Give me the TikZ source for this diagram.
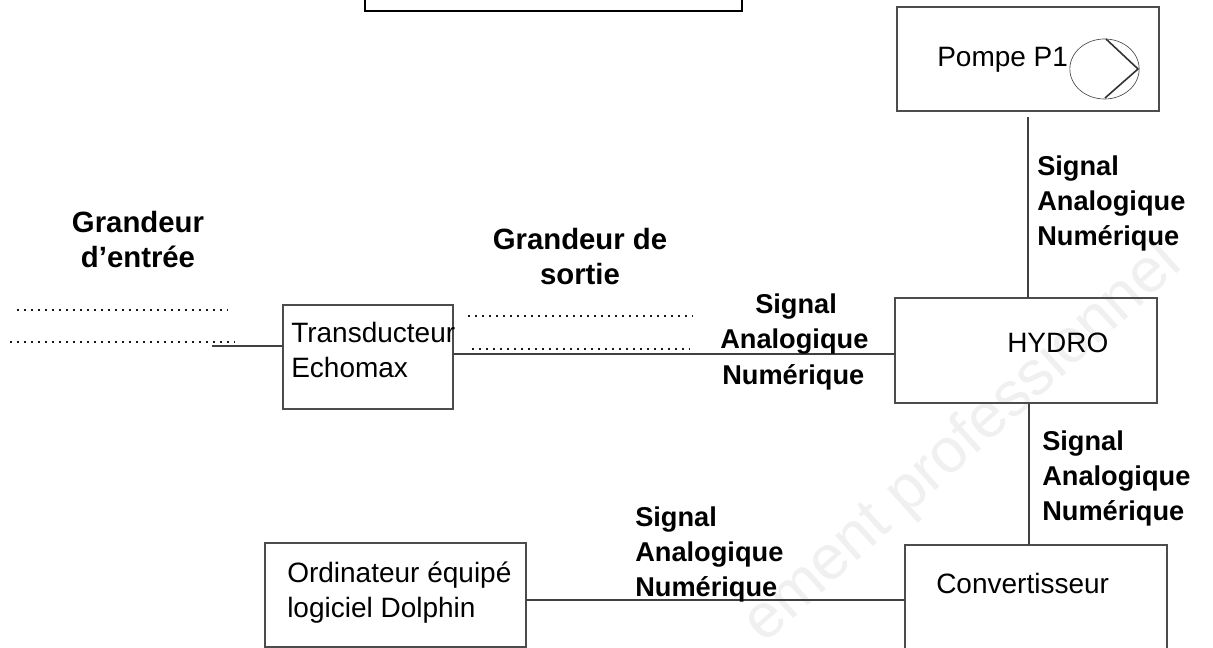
\documentclass[tikz,border=0pt]{standalone}
\usepackage{fontspec}
\setmainfont{Liberation Sans}
\usetikzlibrary{shapes.geometric}
\tikzset{
  x=0.75pt,y=-0.75pt,
  box/.style={draw=black!70,line width=0.9pt,inner sep=0pt,outer sep=0pt,anchor=north west},
  wire/.style={draw=black!75,line width=0.8pt},
  reg/.style={font=\fontsize{21}{26}\selectfont,inner sep=0pt,align=left},
  bld/.style={font=\fontsize{20.4}{26.1}\selectfont\bfseries,inner sep=0pt,align=left,anchor=north west},
  head/.style={font=\fontsize{22}{26.25}\selectfont\bfseries,inner sep=0pt,align=center},
  dotline/.style={draw=black!90,line width=1.6pt,dash pattern=on 1.8pt off 3.45pt},
  wmark/.style={font=\fontsize{47}{47}\selectfont,text=black!6,inner sep=0pt,rotate=42,anchor=base west}
}
\newcommand{\sig}{Signal\\Analogique\\Numérique}
\begin{document}
\begin{tikzpicture}
\useasboundingbox (0,0) rectangle (1213,648);
\fill[white] (0,0) rectangle (1213,648);
\begin{scope}
\clip (0,0) rectangle (1213,648);
\node[wmark] (wm) at (764,645) {ement professionnel};
\node[draw=black,line width=1.2pt,inner sep=0pt,outer sep=0pt,minimum width=282.75pt,minimum height=30.75pt,anchor=south west] (top) at (365,11) {};
\node[box,minimum width=196.5pt,minimum height=78pt] (pump) at (897,7) {};
\node[box,minimum width=196.5pt,minimum height=78.75pt] (hydro) at (895,298) {};
\node[box,minimum width=127.5pt,minimum height=78pt] (trans) at (283,305) {};
\node[box,minimum width=196.5pt,minimum height=120pt] (conv) at (905,545) {};
\node[box,minimum width=195.75pt,minimum height=78pt] (ordi) at (265,543) {};
\node[draw=black!70,ellipse,minimum width=52pt,minimum height=45pt,inner sep=0pt,line width=0.5pt] (pc) at (1104.5,69) {};
\draw[line width=1.2pt,draw=black!80] (1106,39) -- (1138,69) -- (1105,98);
\end{scope}
\coordinate (pfree) at (1028,117);
\draw[wire] (pfree) -- (pfree |- hydro.north);
\coordinate (hb) at (1029,403);
\draw[wire] (hb) -- (hb |- conv.north);
\coordinate (tfree) at (212,346);
\draw[wire,line width=1pt] (tfree) -- (trans.west |- tfree);
\coordinate (tr) at (453,354);
\draw[wire,line width=1pt] (tr) -- (hydro.west |- tr);
\coordinate (oc) at (526,600);
\draw[wire] (oc) -- (conv.west |- oc);
\coordinate (d1a) at (17,310); \coordinate (d1b) at (228,310);
\coordinate (d2a) at (10,342); \coordinate (d2b) at (235,342);
\coordinate (d3a) at (468,316); \coordinate (d3b) at (693,316);
\coordinate (d4a) at (472,349); \coordinate (d4b) at (690,349);
\draw[dotline] (d1a)--(d1b); \draw[dotline] (d2a)--(d2b); \draw[dotline] (d3a)--(d3b); \draw[dotline] (d4a)--(d4b);
\node[reg,anchor=base west] (tp) at (937,67) {Pompe P1};
\node[reg,anchor=base west] (th) at (1007,353) {HYDRO};
\node[reg,anchor=north west] (tt) at (291,322) {Transducteur\\Echomax};
\node[reg,anchor=base west] (tc) at (936,593) {Convertisseur};
\node[reg,anchor=north west] (to) at (287,562) {Ordinateur équipé\\logiciel Dolphin};
\node[head] (g1) at (138,240) {Grandeur\\d’entrée};
\node[head] (g2) at (580,257) {Grandeur de\\sortie};
\node[bld] (s1) at (1037,156) {\sig};
\node[bld] (s2a) at (755,294) {Signal};
\node[bld] (s2b) at (720,329) {Analogique};
\node[bld] (s2c) at (722,364) {Numérique};
\node[bld] (s3) at (1042,431) {\sig};
\node[bld] (s4) at (635,507) {\sig};
\end{tikzpicture}
\end{document}
